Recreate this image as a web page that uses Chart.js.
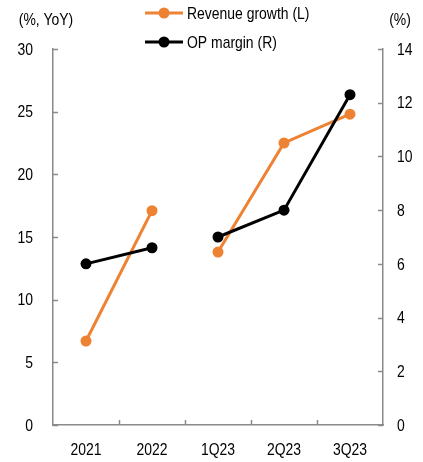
<!DOCTYPE html>
<html>
<head>
<meta charset="utf-8">
<script src="https://cdn.jsdelivr.net/npm/chart.js@4/dist/chart.umd.min.js"></script>
<style>
  html, body { margin: 0; padding: 0; background: #fff; }
  #wrap { position: relative; width: 423px; height: 462px; }
</style>
</head>
<body>
<div id="wrap"><canvas id="c" width="423" height="462"></canvas></div>
<script>
// Periods on the category axis
const categories = ['2021', '2022', '1Q23', '2Q23', '3Q23'];
// Revenue growth, % YoY (left axis)
const revenueGrowth = [6.7, 17.1, 13.8, 22.5, 24.8];
// Operating profit margin, % (right axis)
const opMargin = [6.0, 6.6, 7.0, 8.0, 12.3];
// Axis ranges
const leftRange = { min: 0, max: 30, step: 5 };
const rightRange = { min: 0, max: 14, step: 2 };
// Series names and axis units
const seriesNames = ['Revenue growth (L)', 'OP margin (R)'];
const leftUnit = '(%, YoY)';
const rightUnit = '(%)';
// Break between annual and quarterly points (segment after this index is hidden)
const breakAfter = 1;

const ORANGE = '#EE8233';
const BLACK = '#000000';
const AXIS = '#8a8a8a';
const FONT = "'Liberation Sans', Arial, sans-serif";
const FSIZE = 17;
const NARROW = 0.82; // horizontal squeeze giving a narrow sans look

// Draw text with a condensed width
function narrowText(ctx, text, x, y, align) {
  ctx.save();
  ctx.translate(x, y);
  ctx.scale(NARROW, 1);
  ctx.textAlign = align;
  ctx.textBaseline = 'middle';
  ctx.fillText(text, 0, 0);
  ctx.restore();
}

const gapSegment = color => ({
  borderColor: ctx => ctx.p0DataIndex === breakAfter ? 'rgba(0,0,0,0)' : color
});

// Inward tick marks, tick labels, axis units and the two-row legend
const decorations = {
  id: 'decorations',
  afterDraw(chart) {
    const { ctx, chartArea: a, scales } = chart;
    ctx.save();
    ctx.strokeStyle = AXIS;
    ctx.lineWidth = 1.5;
    const len = 5;
    ctx.beginPath();
    scales.y.ticks.forEach(t => {
      const y = Math.round(scales.y.getPixelForValue(t.value)) + 0.5;
      ctx.moveTo(a.left, y); ctx.lineTo(a.left + len, y);
    });
    scales.y1.ticks.forEach(t => {
      const y = Math.round(scales.y1.getPixelForValue(t.value)) + 0.5;
      ctx.moveTo(a.right, y); ctx.lineTo(a.right - len, y);
    });
    for (let i = 1; i < categories.length; i++) {
      const x = Math.round((scales.x.getPixelForValue(i - 1) + scales.x.getPixelForValue(i)) / 2) + 0.5;
      ctx.moveTo(x, a.bottom); ctx.lineTo(x, a.bottom - len);
    }
    ctx.stroke();

    ctx.fillStyle = '#000';
    ctx.font = FSIZE + 'px ' + FONT;
    scales.y.ticks.forEach(t => {
      narrowText(ctx, t.label, a.left - 20, scales.y.getPixelForValue(t.value) + 1, 'right');
    });
    scales.y1.ticks.forEach(t => {
      narrowText(ctx, t.label, a.right + 14, scales.y1.getPixelForValue(t.value) + 1, 'left');
    });
    scales.x.ticks.forEach((t, i) => {
      narrowText(ctx, t.label, scales.x.getPixelForValue(i), a.bottom + 25, 'center');
    });

    narrowText(ctx, leftUnit, 46, 20, 'center');
    narrowText(ctx, rightUnit, 400, 20, 'center');

    const rows = [
      { y: 13, color: ORANGE, text: seriesNames[0] },
      { y: 42, color: BLACK, text: seriesNames[1] }
    ];
    rows.forEach(r => {
      ctx.strokeStyle = r.color;
      ctx.fillStyle = r.color;
      ctx.lineWidth = 3;
      ctx.beginPath();
      ctx.moveTo(145, r.y); ctx.lineTo(183, r.y);
      ctx.stroke();
      ctx.beginPath();
      ctx.arc(164, r.y, 5.5, 0, Math.PI * 2);
      ctx.fill();
      ctx.fillStyle = '#000';
      narrowText(ctx, r.text, 187, r.y + 1, 'left');
    });
    ctx.restore();
  }
};

new Chart(document.getElementById('c'), {
  type: 'line',
  data: {
    labels: categories,
    datasets: [
      {
        label: seriesNames[0],
        data: revenueGrowth,
        yAxisID: 'y',
        borderColor: ORANGE,
        backgroundColor: ORANGE,
        borderWidth: 3,
        pointRadius: 5.5,
        pointHoverRadius: 5.5,
        pointBorderWidth: 0,
        tension: 0,
        order: 2,
        segment: gapSegment(ORANGE)
      },
      {
        label: seriesNames[1],
        data: opMargin,
        yAxisID: 'y1',
        borderColor: BLACK,
        backgroundColor: BLACK,
        borderWidth: 3,
        pointRadius: 5.5,
        pointHoverRadius: 5.5,
        pointBorderWidth: 0,
        tension: 0,
        order: 1,
        segment: gapSegment(BLACK)
      }
    ]
  },
  options: {
    responsive: false,
    animation: false,
    layout: { padding: { top: 49, left: 0, right: 0, bottom: 0 } },
    plugins: {
      legend: { display: false },
      tooltip: { enabled: false }
    },
    scales: {
      x: {
        offset: true,
        grid: { display: false, drawTicks: false },
        border: { display: true, color: AXIS, width: 1.5 },
        ticks: { display: false },
        afterFit: s => { s.height = 37; }
      },
      y: {
        position: 'left',
        min: leftRange.min, max: leftRange.max,
        grid: { display: false, drawTicks: false },
        border: { display: true, color: AXIS, width: 1.5 },
        ticks: { display: false, stepSize: leftRange.step },
        afterFit: s => { s.width = 53; }
      },
      y1: {
        position: 'right',
        min: rightRange.min, max: rightRange.max,
        grid: { display: false, drawTicks: false },
        border: { display: true, color: AXIS, width: 1.5 },
        ticks: { display: false, stepSize: rightRange.step },
        afterFit: s => { s.width = 40; }
      }
    }
  },
  plugins: [decorations]
});
</script>
</body>
</html>
